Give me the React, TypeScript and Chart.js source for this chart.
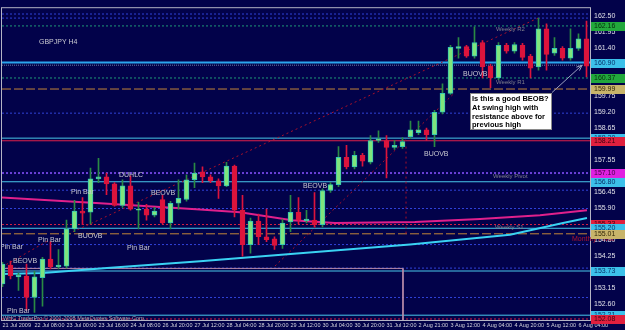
import React, { useEffect, useRef } from "react";
import { Chart, registerables } from "chart.js";

Chart.register(...registerables);

// ---------- data (GBPJPY H4) ----------
const timeLabels = [
  "21 Jul 2009", "22 Jul 08:00", "23 Jul 00:00", "23 Jul 16:00", "24 Jul 08:00",
  "26 Jul 20:00", "27 Jul 12:00", "28 Jul 04:00", "28 Jul 20:00", "29 Jul 12:00",
  "30 Jul 04:00", "30 Jul 20:00", "31 Jul 12:00", "2 Aug 21:00", "3 Aug 12:00",
  "4 Aug 04:00", "4 Aug 20:00", "5 Aug 12:00", "6 Aug 04:00",
];
const priceTicks = [
  152.6, 153.15, 153.7, 154.25, 154.8, 155.35, 155.9, 156.45, 157.0, 157.55,
  158.1, 158.65, 159.2, 159.75, 160.3, 160.85, 161.4, 161.95, 162.5,
];

const opens = [
  153.29, 153.93, 153.53, 153.56, 152.82, 153.5, 154.14, 153.87, 153.9, 155.18,
  155.79, 155.75, 156.9, 156.97, 156.73, 155.99, 156.66, 155.82, 155.86, 155.65,
  156.19, 155.38, 156.06, 156.19, 156.87, 157.14, 156.97, 156.83, 156.66, 157.34,
  155.82, 154.64, 155.45, 154.91, 154.84, 154.64, 155.42, 155.75, 155.45, 155.48,
  155.32, 156.5, 156.7, 157.64, 157.31, 157.71, 157.47, 158.22, 158.22, 157.98,
  158.01, 158.35, 158.49, 158.59, 158.42, 159.19, 159.84, 161.39, 161.45, 161.12,
  161.59, 160.78, 160.37, 161.49, 161.29, 161.49, 161.12, 160.75, 162.06, 161.22,
  161.39, 161.05, 161.39, 161.72,
];
const highs = [
  154.03, 154.07, 153.66, 153.97, 153.73, 154.2, 154.74, 154.47, 155.48, 156.16,
  156.26, 157.27, 157.61, 157.1, 156.77, 156.87, 157.0, 156.09, 156.02, 155.92,
  156.33, 156.13, 156.87, 157.04, 157.44, 157.31, 157.04, 156.9, 157.47, 157.37,
  156.33, 155.55, 155.69, 155.86, 154.91, 155.52, 156.33, 156.26, 155.82, 156.43,
  156.56, 156.77, 158.01, 158.05, 157.85, 157.78, 158.39, 158.55, 158.39, 158.22,
  158.32, 158.89, 158.89, 158.65, 159.26, 160.17, 161.49, 161.76, 161.49, 162.13,
  161.66, 160.85, 161.59, 161.56, 161.59, 161.56, 161.18, 162.43, 162.23, 161.76,
  161.45, 162.06, 161.89, 162.33,
];
const lows = [
  153.19, 153.46, 153.06, 152.38, 152.31, 152.52, 153.8, 153.8, 153.83, 155.08,
  155.32, 155.35, 156.77, 156.36, 155.96, 155.92, 155.82, 155.18, 155.48, 155.59,
  155.35, 155.18, 155.86, 156.13, 156.6, 156.77, 156.77, 156.23, 156.63, 155.59,
  154.24, 154.34, 154.64, 154.74, 154.47, 154.51, 155.08, 155.35, 155.38, 155.25,
  155.25, 156.43, 156.63, 157.24, 157.24, 157.34, 157.41, 158.15, 156.93, 157.91,
  157.95, 158.28, 158.42, 158.22, 158.01, 159.13, 159.8, 161.05, 161.08, 161.05,
  160.37, 160.04, 160.31, 161.22, 161.22, 160.98, 160.37, 160.64, 160.64, 161.15,
  160.98, 160.98, 161.32, 160.41,
];
const closes = [
  153.97, 153.56, 153.6, 152.82, 153.53, 154.14, 153.87, 153.93, 155.18, 155.79,
  155.72, 156.9, 156.97, 156.73, 155.99, 156.66, 155.86, 155.86, 155.65, 155.79,
  155.38, 156.06, 156.23, 156.87, 157.1, 156.97, 156.83, 156.66, 157.34, 155.82,
  154.64, 155.45, 154.91, 154.81, 154.61, 155.38, 155.75, 155.48, 155.52, 155.32,
  156.5, 156.7, 157.64, 157.31, 157.71, 157.51, 158.22, 158.28, 157.98, 158.05,
  158.18, 158.59, 158.59, 158.42, 159.19, 159.84, 161.42, 161.45, 161.12, 161.59,
  160.75, 160.37, 161.49, 161.29, 161.52, 161.08, 160.71, 162.06, 161.18, 161.39,
  161.05, 161.39, 161.72, 160.78,
];

// moving averages (read at a few bars)
const pinkMaBars = [-0.06, 12.19, 24.69, 29.69, 36.19, 41.56, 51.56, 59.69, 67.19, 73.06];
const pinkMaVals = [156.26, 156.06, 155.85, 155.75, 155.48, 155.38, 155.42, 155.52, 155.65, 155.82];
const cyanMaBars = [-0.06, 5.06, 13.06, 24.69, 37.19, 50.94, 63.44, 70.06, 73.06];
const cyanMaVals = [153.63, 153.66, 153.83, 154.07, 154.34, 154.64, 154.98, 155.38, 155.55];

// horizontal levels
const blueDotLevels = [162.57, 162.43, 159.16, 156.51, 155.88, 154.64, 153.83, 152.82];
const weeklyRLevels = [162.16, 160.37];
const grayDotLevels = [160.81];
const mainCyanLevels = [160.9];
const cyanLevels = [158.3, 156.8, 155.2, 153.73, 152.21];
const redSolidLevels = [158.21];
const redDotLevels = [155.33, 152.08];
const pivotLevels = [157.1];
const orangeDashLevels = [159.99, 155.01];

// trend lines: [bar1, price1, bar2, price2]
const trendA = [8.81, 155.08, 66.94, 162.43];
const trendB = [34.06, 153.9, 56.56, 159.87];
const trendC = [-0.06, 153.87, 5.94, 154.81];
const dropLine = [50.44, 158.01, 50.44, 154.98];
const rangeTop = 153.82;
const rangeEndBar = 50.06;

// right side price markers
const markerPrices = [162.16, 160.9, 160.37, 159.99, 158.3, 158.21, 157.1, 156.8, 155.33, 155.2, 155.01, 153.73, 152.21, 152.08];
const markerKinds = ["g", "c", "g", "y", "c", "r", "m", "c", "r", "c", "y", "c", "c", "r"];

const notes = [
  { t: "GBPJPY H4", i: 4.56, p: 161.62 },
  { t: "Pin Bar", i: -0.31, p: 154.54 },
  { t: "Pin Bar", i: 4.44, p: 154.79 },
  { t: "BEOVB", i: 1.31, p: 154.09 },
  { t: "Pin Bar", i: 15.56, p: 154.52 },
  { t: "Pin Bar", i: 0.56, p: 152.35 },
  { t: "BUOVB", i: 9.44, p: 154.93 },
  { t: "Pin Bar", i: 8.56, p: 156.45 },
  { t: "DUHLC", i: 14.56, p: 157.02 },
  { t: "BEOVB", i: 18.56, p: 156.43 },
  { t: "BEOVB", i: 37.56, p: 156.65 },
  { t: "BUOVB", i: 52.69, p: 157.76 },
  { t: "BUOVB", i: 57.56, p: 160.49 },
];
const levelNotes = [
  { t: "Weekly R2", i: 61.69, p: 162.04 },
  { t: "Weekly R1", i: 61.69, p: 160.24 },
  { t: "Weekly Pivot", i: 61.31, p: 157.0 },
  { t: "Weekly S1", i: 61.56, p: 155.23 },
];
const monthlyNote = { t: "Monthly Pivot", i: 71.19, p: 154.83 };
const copyrightNote = { t: "WHC TraderPro © 2001-2008 MetaQuotes Software Corp.", i: 0.06, p: 152.11 };
const boxLines = ["Is this a good BEOB?", "At swing high with", "resistance above for", "previous high"];
const boxArea = [58.44, 159.84, 68.69, 158.59];
const arrowPts = [68.69, 159.87, 72.44, 160.81];

// ---------- axis bounds & styles ----------
const X_MIN = -0.0625;
const X_MAX = 73.4375;
const Y_MIN = 152.045;
const Y_MAX = 162.77;
const BG = "#02024a";
const FONT = "'Liberation Sans', Arial, sans-serif";

const KIND_STYLE: Record<string, [string, string]> = {
  g: ["#22a83c", "#062a0c"],
  c: ["#3cc0ea", "#06306a"],
  y: ["#c8b46a", "#302406"],
  r: ["#e0203e", "#3a0010"],
  m: ["#e020e0", "#400040"],
};

export default function App() {
  const ref = useRef<HTMLCanvasElement>(null);

  useEffect(() => {
    const canvas = ref.current;
    if (!canvas) return;
    const idx = opens.map((_, i) => i);
    const up = idx.map((i) => closes[i] >= opens[i]);

    const hline = (p: number, color: string, dash: number[], width = 1) => ({
      type: "line",
      data: [{ x: X_MIN, y: p }, { x: X_MAX, y: p }],
      borderColor: color,
      borderDash: dash,
      borderWidth: width,
      pointRadius: 0,
      fill: false,
      order: 5,
    });
    const seg = (a: number[], color: string, dash: number[], width = 1) => ({
      type: "line",
      data: [{ x: a[0], y: a[1] }, { x: a[2], y: a[3] }],
      borderColor: color,
      borderDash: dash,
      borderWidth: width,
      pointRadius: 0,
      fill: false,
      order: 4,
    });

    const datasets: any[] = [];
    blueDotLevels.forEach((p) => datasets.push(hline(p, "#3042d8", [2, 2])));
    weeklyRLevels.forEach((p) => datasets.push(hline(p, "#1f9a78", [2, 2])));
    grayDotLevels.forEach((p) => datasets.push(hline(p, "#6c7ca4", [1, 1])));
    mainCyanLevels.forEach((p) => datasets.push(hline(p, "#2aa6ee", [], 2)));
    cyanLevels.forEach((p) => datasets.push(hline(p, "#48c8ea", [])));
    redSolidLevels.forEach((p) => datasets.push(hline(p, "#e0204a", [])));
    redDotLevels.forEach((p) => datasets.push(hline(p, "#d02044", [2, 2])));
    pivotLevels.forEach((p) => datasets.push(hline(p, "#6a40d8", [2, 2], 2)));
    orangeDashLevels.forEach((p) => datasets.push(hline(p, "#c48638", [9, 3])));

    datasets.push(seg(trendA, "#a8102a", [2, 3]));
    datasets.push(seg(trendB, "#a8102a", [2, 3]));
    datasets.push(seg(trendC, "#a8102a", [2, 3]));
    datasets.push(seg(dropLine, "#a8102a", [2, 3]));
    datasets.push({
      type: "line",
      data: [
        { x: X_MIN, y: rangeTop },
        { x: rangeEndBar, y: rangeTop },
        { x: rangeEndBar, y: Y_MIN },
      ],
      borderColor: "#b88aa8",
      borderWidth: 1,
      pointRadius: 0,
      fill: false,
      order: 4,
    });

    datasets.push({
      type: "line",
      data: pinkMaBars.map((b, k) => ({ x: b, y: pinkMaVals[k] })),
      borderColor: "#e0208c",
      borderWidth: 2,
      pointRadius: 0,
      fill: false,
      order: 3,
    });
    datasets.push({
      type: "line",
      data: cyanMaBars.map((b, k) => ({ x: b, y: cyanMaVals[k] })),
      borderColor: "#3ad2f2",
      borderWidth: 2,
      pointRadius: 0,
      fill: false,
      order: 3,
    });

    // wicks
    datasets.push({
      type: "bar",
      data: idx.map((i) => ({ x: i, y: [lows[i], highs[i]] })),
      backgroundColor: idx.map((i) => (up[i] ? "#2a8a44" : "#dc143c")),
      borderWidth: 0,
      barThickness: 1,
      grouped: false,
      order: 1,
    });
    // bodies
    datasets.push({
      type: "bar",
      data: idx.map((i) => ({ x: i, y: [Math.min(opens[i], closes[i]), Math.max(opens[i], closes[i])] })),
      backgroundColor: idx.map((i) => (up[i] ? "#7fe47c" : "#dc143c")),
      borderColor: idx.map((i) => (up[i] ? "#34c6b4" : "#dc143c")),
      borderWidth: 1,
      borderSkipped: false,
      barThickness: 5,
      minBarLength: 1,
      grouped: false,
      order: 0,
    });

    const bgPlugin = {
      id: "mtBackground",
      beforeDraw(chart: any) {
        const c = chart.ctx;
        c.save();
        c.fillStyle = BG;
        c.fillRect(0, 0, chart.width, chart.height);
        c.restore();
      },
    };

    const notesPlugin = {
      id: "mtNotes",
      afterDatasetsDraw(chart: any) {
        const c = chart.ctx;
        const xs = chart.scales.x;
        const ys = chart.scales.y;
        const a = chart.chartArea;
        const X = (v: number) => xs.getPixelForValue(v);
        const Y = (v: number) => ys.getPixelForValue(v);
        c.save();
        c.beginPath();
        c.rect(a.left, a.top, a.right - a.left, a.bottom - a.top);
        c.clip();
        c.textBaseline = "middle";
        c.textAlign = "left";

        c.font = `7px ${FONT}`;
        c.fillStyle = "#c8c8d0";
        notes.forEach((n) => c.fillText(n.t, Math.round(X(n.i)), Math.round(Y(n.p))));

        c.font = `6px ${FONT}`;
        c.fillStyle = "#80808c";
        levelNotes.forEach((n) => c.fillText(n.t, Math.round(X(n.i)), Math.round(Y(n.p))));

        c.font = `5.5px ${FONT}`;
        c.fillStyle = "#a8a8b4";
        c.fillText(copyrightNote.t, Math.round(X(copyrightNote.i)), Math.round(Y(copyrightNote.p)));

        // arrow
        const ax1 = X(arrowPts[0]), ay1 = Y(arrowPts[1]);
        const ax2 = X(arrowPts[2]), ay2 = Y(arrowPts[3]);
        c.strokeStyle = "#9aa0c0";
        c.lineWidth = 1;
        c.beginPath();
        c.moveTo(ax1, ay1);
        c.lineTo(ax2, ay2);
        c.stroke();
        const ang = Math.atan2(ay2 - ay1, ax2 - ax1);
        c.beginPath();
        c.moveTo(ax2, ay2);
        c.lineTo(ax2 - 6 * Math.cos(ang - 0.4), ay2 - 6 * Math.sin(ang - 0.4));
        c.moveTo(ax2, ay2);
        c.lineTo(ax2 - 6 * Math.cos(ang + 0.4), ay2 - 6 * Math.sin(ang + 0.4));
        c.stroke();

        // text box
        const bx1 = Math.round(X(boxArea[0])), by1 = Math.round(Y(boxArea[1]));
        const bx2 = Math.round(X(boxArea[2])), by2 = Math.round(Y(boxArea[3]));
        c.fillStyle = "#ffffff";
        c.fillRect(bx1, by1, bx2 - bx1, by2 - by1);
        c.strokeStyle = "#8a8a8a";
        c.strokeRect(bx1 + 0.5, by1 + 0.5, bx2 - bx1 - 1, by2 - by1 - 1);
        c.fillStyle = "#000000";
        c.font = `bold 7.5px ${FONT}`;
        boxLines.forEach((l, k) => c.fillText(l, bx1 + 2, by1 + 6 + k * 8.8));
        c.restore();

        // frame
        c.save();
        c.strokeStyle = "#b4b4c4";
        c.lineWidth = 1;
        c.strokeRect(a.left - 0.5, a.top - 0.5, a.right - a.left + 1, a.bottom - a.top + 1);
        c.restore();
      },
      afterDraw(chart: any) {
        const c = chart.ctx;
        const xs = chart.scales.x;
        const ys = chart.scales.y;
        const a = chart.chartArea;
        c.save();
        c.textBaseline = "middle";
        c.textAlign = "left";
        c.font = `7px ${FONT}`;
        c.fillStyle = "#b0142e";
        c.fillText(monthlyNote.t, Math.round(xs.getPixelForValue(monthlyNote.i)), Math.round(ys.getPixelForValue(monthlyNote.p)));
        markerPrices.forEach((p, k) => {
          const y = Math.round(ys.getPixelForValue(p));
          const [bg, fg] = KIND_STYLE[markerKinds[k]];
          c.fillStyle = bg;
          c.fillRect(a.right + 1, y - 4, chart.width - a.right - 1, 9);
          c.fillStyle = fg;
          c.fillText(p.toFixed(2), a.right + 4, y + 0.5);
        });
        c.restore();
      },
    };

    const chart = new Chart(canvas, {
      type: "bar",
      data: { datasets },
      options: {
        responsive: false,
        devicePixelRatio: 1,
        animation: false,
        events: [],
        layout: { padding: { left: 2, top: 2, right: 0, bottom: 0 } },
        plugins: { legend: { display: false }, tooltip: { enabled: false } },
        scales: {
          x: {
            type: "linear",
            min: X_MIN,
            max: X_MAX,
            offset: false,
            grid: { display: false, drawTicks: false },
            border: { display: true, color: "#b4b4c4" },
            ticks: {
              autoSkip: false,
              maxRotation: 0,
              minRotation: 0,
              align: "start",
              padding: 2,
              color: "#d4d4dc",
              font: { size: 5.5, family: FONT },
              callback: (v: any) => timeLabels[Math.round(Number(v) / 4)] ?? "",
            },
            afterBuildTicks: (s: any) => {
              s.ticks = timeLabels.map((_, k) => ({ value: k * 4 }));
            },
            afterFit: (s: any) => {
              s.height = 10;
            },
          },
          y: {
            type: "linear",
            position: "right",
            min: Y_MIN,
            max: Y_MAX,
            grid: { display: false, drawTicks: false },
            border: { display: true, color: "#b4b4c4" },
            ticks: {
              autoSkip: false,
              padding: 4,
              color: "#e0e0e8",
              font: { size: 7, family: FONT },
              callback: (v: any) => Number(v).toFixed(2),
            },
            afterBuildTicks: (s: any) => {
              s.ticks = priceTicks.map((v) => ({ value: v }));
            },
            afterFit: (s: any) => {
              s.width = 35;
            },
          },
        },
      } as any,
      plugins: [bgPlugin, notesPlugin],
    } as any);

    return () => chart.destroy();
  }, []);

  return (
    <div style={{ position: "absolute", left: 0, top: 0, width: 625, height: 330, background: BG }}>
      <canvas ref={ref} width={625} height={330} style={{ display: "block", width: 625, height: 330 }} />
    </div>
  );
}
